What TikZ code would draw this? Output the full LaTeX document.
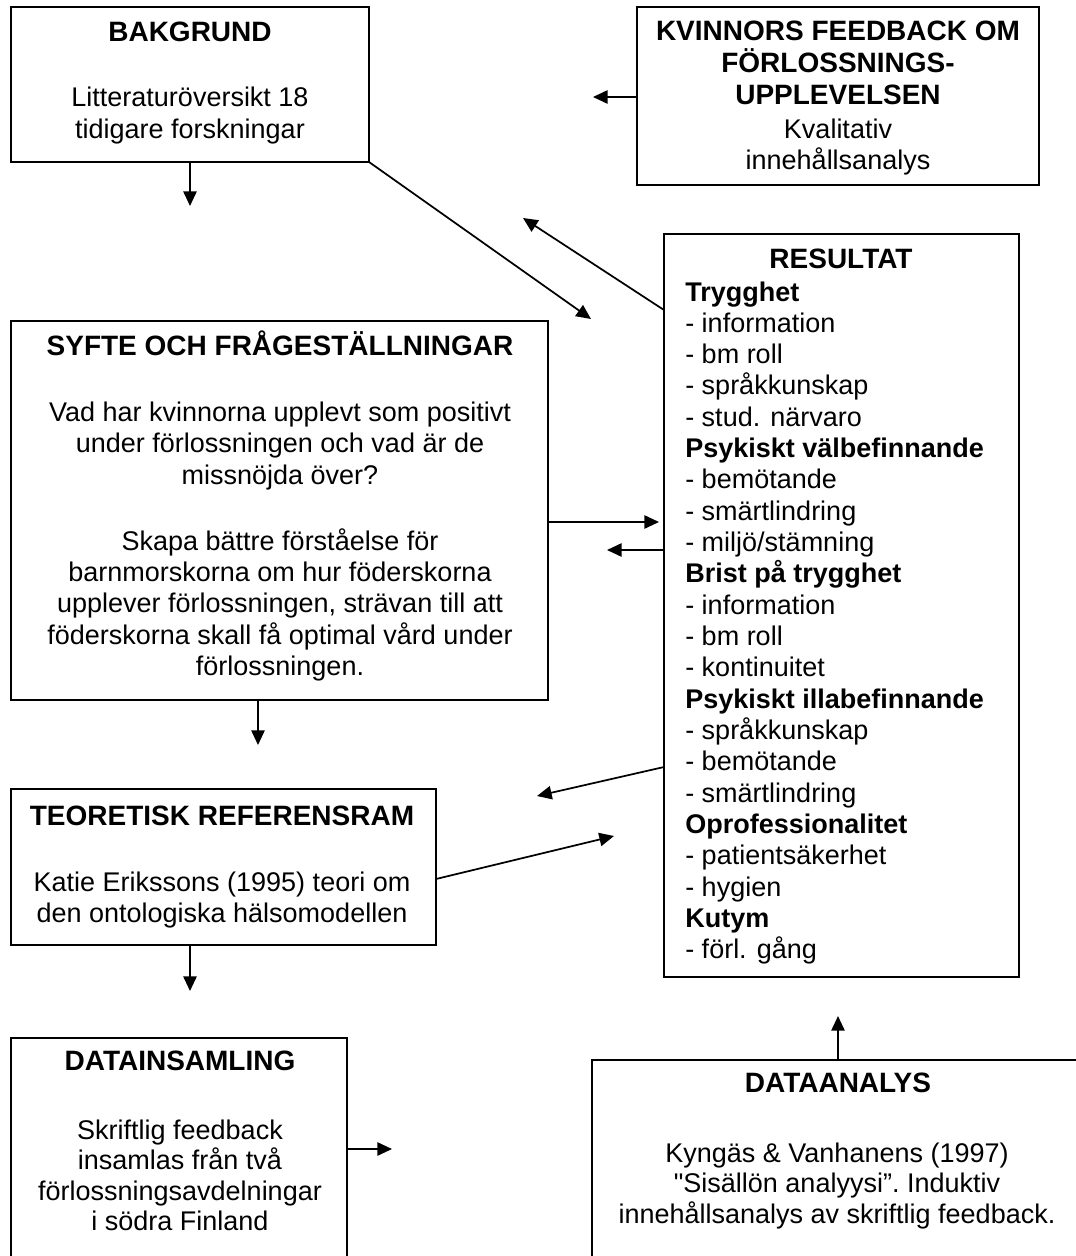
\documentclass[tikz,border=0pt]{standalone}
\usepackage{fontspec}
\setmainfont{Liberation Sans}
\newfontfamily\qfont{Liberation Sans}
\usetikzlibrary{arrows.meta}
\newcommand\mkbox[5]{\node[box, minimum width={(#4-#2)*0.75pt}, minimum height={(#5-#3)*0.75pt}] (#1) at ({(#2+#4)/2},{(#3+#5)/2}) {};}
\begin{document}
\begin{tikzpicture}[x=0.75pt,y=-0.75pt,
  box/.style={draw, line width=1.3pt, inner sep=0pt, outer sep=0pt},
  tx/.style={inner sep=0pt, anchor=base, font=\fontsize{20.25}{23}\selectfont},
  hd/.style={inner sep=0pt, anchor=base, font=\fontsize{21}{24}\selectfont\bfseries},
  li/.style={inner sep=0pt, anchor=base west, font=\fontsize{20.25}{23}\selectfont},
  arr/.style={line width=1.3pt, -{Triangle[length=11pt,width=10pt]}}]
\useasboundingbox (0,0) rectangle (1075,1256);
\fill[white] (0,0) rectangle (1075,1256);

% boxes
\mkbox{bak}{11}{7}{369}{162}
\mkbox{kv}{637}{7}{1039}{185}
\mkbox{res}{664}{234}{1019}{977}
\mkbox{syf}{11}{321}{548}{700}
\mkbox{teo}{11}{789}{436}{945}
\mkbox{dins}{11}{1038}{347}{1275}
\mkbox{dan}{592}{1060}{1084}{1275}

% BAKGRUND
\node[hd] (bakh) at (190,42) {BAKGRUND};
\node[tx] (bak1) at (190,107) {Litteraturöversikt 18};
\node[tx] (bak2) at (190,138) {tidigare forskningar};

% KVINNORS
\node[hd] (kv1) at (838,41) {KVINNORS FEEDBACK OM};
\node[hd] (kv2) at (838,73) {FÖRLOSSNINGS-};
\node[hd] (kv3) at (838,104) {UPPLEVELSEN};
\node[tx] (kv4) at (838,138) {Kvalitativ};
\node[tx] (kv5) at (838,169) {innehållsanalys};

% RESULTAT
\node[hd] (resh) at (841,268) {RESULTAT};
\foreach \t [count=\i from 0] in {{\bfseries Trygghet},- information,- bm roll,- språkkunskap,- stud. närvaro,{\bfseries Psykiskt välbefinnande},- bemötande,- smärtlindring,- miljö/stämning,{\bfseries Brist på trygghet},- information,- bm roll,- kontinuitet,{\bfseries Psykiskt illabefinnande},- språkkunskap,- bemötande,- smärtlindring,{\bfseries Oprofessionalitet},- patientsäkerhet,- hygien,{\bfseries Kutym},- förl. gång}
  \node[li] (r\i) at (685,{301+31.33*\i}) {\t};

% SYFTE
\node[hd] (syfh) at (280,355) {SYFTE OCH FRÅGESTÄLLNINGAR};
\node[tx] (s1) at (280,421) {Vad har kvinnorna upplevt som positivt};
\node[tx] (s2) at (280,452) {under förlossningen och vad är de};
\node[tx] (s3) at (280,484) {missnöjda över?};
\node[tx] (s4) at (280,550) {Skapa bättre förståelse för};
\node[tx] (s5) at (280,581) {barnmorskorna om hur föderskorna};
\node[tx] (s6) at (280,612) {upplever förlossningen, strävan till att};
\node[tx] (s7) at (280,644) {föderskorna skall få optimal vård under};
\node[tx] (s8) at (280,675) {förlossningen.};

% TEORETISK
\node[hd] (teoh) at (222,825) {TEORETISK REFERENSRAM};
\node[tx] (t1) at (222,891) {Katie Erikssons (1995) teori om};
\node[tx] (t2) at (222,922) {den ontologiska hälsomodellen};

% DATAINSAMLING
\node[hd] (dinsh) at (180,1070) {DATAINSAMLING};
\node[tx] (d1) at (180,1139) {Skriftlig feedback};
\node[tx] (d2) at (180,1169.5) {insamlas från två};
\node[tx] (d3) at (180,1200) {förlossningsavdelningar};
\node[tx] (d4) at (180,1230.5) {i södra Finland};

% DATAANALYS
\node[hd] (danh) at (838,1092) {DATAANALYS};
\node[tx] (a1) at (837,1162) {Kyngäs \& Vanhanens (1997)};
\node[tx] (a2) at (837,1192) {\frenchspacing{\qfont"}Sisällön analyysi”. Induktiv};
\node[tx] (a3) at (837,1223) {innehållsanalys av skriftlig feedback.};

% arrows
\coordinate (e1) at (593,97);
\coordinate (e2) at (523,218);
\coordinate (e3) at (591,319);
\coordinate (e4) at (190,206);
\coordinate (e5) at (659,522);
\coordinate (e6) at (607,550);
\coordinate (e7) at (258,745);
\coordinate (e8) at (537,796);
\coordinate (e9) at (614,836);
\coordinate (e10) at (190,991);
\coordinate (e11) at (392,1149);
\coordinate (e12) at (838,1016);
\draw[arr] (kv.west |- 0,97) -- (e1);
\draw[arr] (res.west |- 0,310) -- (e2);
\draw[arr] (bak.south east) -- (e3);
\draw[arr] (bak.south) -- (e4);
\draw[arr] (syf.east |- 0,522) -- (e5);
\draw[arr] (res.west |- 0,550) -- (e6);
\draw[arr] (syf.south -| 258,0) -- (e7);
\draw[arr] (res.west |- 0,767) -- (e8);
\draw[arr] (teo.east |- 0,879) -- (e9);
\draw[arr] (teo.south -| 190,0) -- (e10);
\draw[arr] (dins.east |- 0,1149) -- (e11);
\draw[arr] (dan.north) -- (e12);
\end{tikzpicture}
\end{document}
